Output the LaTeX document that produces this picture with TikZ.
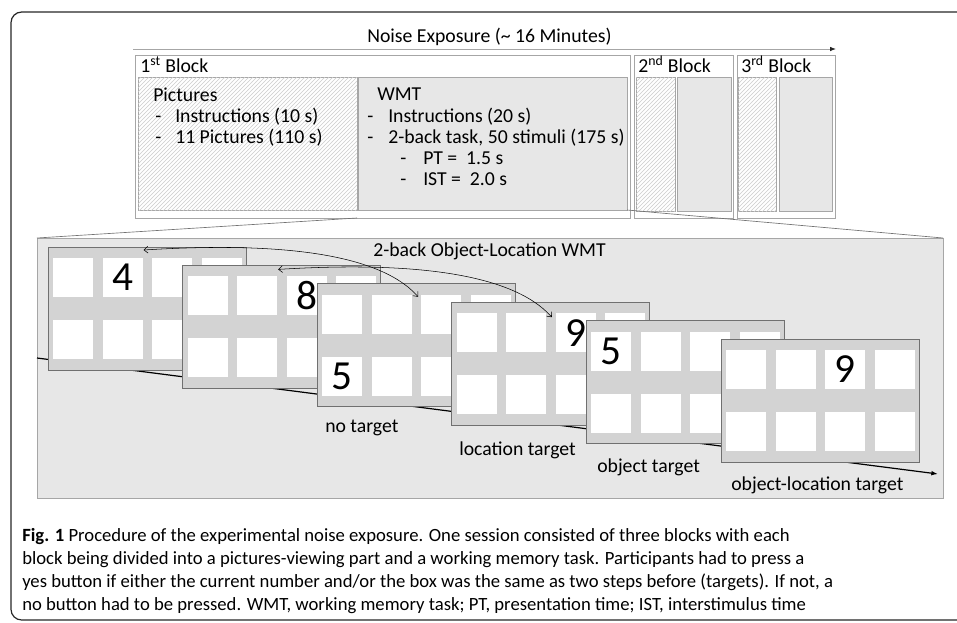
\documentclass[tikz,border=0pt]{standalone}
\usepackage{fontspec}
\setmainfont{Carlito}
\usepackage{xcolor}
\definecolor{cEdge}{HTML}{A6A6A6}
\definecolor{cPanel}{HTML}{E7E7E7}
\definecolor{cCard}{HTML}{D3D3D3}
\definecolor{cCardEdge}{HTML}{707070}
\usetikzlibrary{positioning, arrows.meta, fit, patterns, calc}

\begin{document}
\begin{tikzpicture}[
    x=0.75pt, y=-0.75pt,
    box/.style={draw=cEdge, inner sep=0pt, outer sep=0pt, line width=0.6pt},
    hatchbox/.style={box, fill=white, postaction={pattern=north east lines, pattern color=black!20}},
    wmtbox/.style={box, fill=cPanel},
    card/.style={draw=cCardEdge, fill=cCard, line width=0.6pt, inner sep=0pt, outer sep=0pt,
                 anchor=north west, minimum width=148.5pt, minimum height=92.25pt},
    cell/.style={fill=white, inner sep=0pt, outer sep=0pt, anchor=north west,
                 minimum width=30pt, minimum height=29.25pt},
    digit/.style={font=\fontsize{31}{33}\selectfont, inner sep=0pt},
    txt/.style={font=\fontsize{14.8}{15.8}\selectfont, inner sep=0pt, align=left},
    captext/.style={font=\fontsize{14}{17}\selectfont, inner sep=0pt, anchor=base west},
    swaparrow/.style={{Straight Barb[length=3pt,width=5pt]}-{Straight Barb[length=3pt,width=5pt]}, line width=0.4pt},
    zoomline/.style={draw=black!55, line width=0.5pt}
]
\useasboundingbox (0,0) rectangle (957,622);
\draw[black!85, line width=0.9pt, rounded corners=8pt] (11,12) rectangle (990,620);

% time axis of the session
\node[txt, anchor=base west] (noise) at (367,42) {Noise Exposure (\textasciitilde{} 16 Minutes)};
\coordinate (ne-start) at (133,49);
\coordinate (ne-end) at (836,49);
\draw[cEdge, line width=0.75pt, -{Latex[length=4.5pt,width=3.5pt,color=black!85]}] (ne-start) -- (ne-end);

% three blocks
\node[box, fill=white, fit={(135,55) (630,218)}] (blockA) {};
\node[box, fill=white, fit={(634,55) (733,218)}] (blockB) {};
\node[box, fill=white, fit={(737,55) (835,218)}] (blockC) {};
\node[hatchbox, fit={(138,77) (357,210)}] (pics) {};
\node[wmtbox, fit={(358,77) (627,210)}] (wmt) {};
\node[hatchbox, fit={(636,77) (675,211)}] (picsB) {};
\node[wmtbox, fit={(677,77) (731,211)}] (wmtB) {};
\node[hatchbox, fit={(738,77) (776,211)}] (picsC) {};
\node[wmtbox, fit={(779,77) (832,211)}] (wmtC) {};
\node[txt, anchor=base west] at (140,72) {1\textsuperscript{st} Block};
\node[txt, anchor=base west] at (638,72) {2\textsuperscript{nd} Block};
\node[txt, anchor=base west] at (741,72) {3\textsuperscript{rd} Block};
\node[txt, anchor=north west] (picstext) at (153,88) {Pictures\\
    \hspace*{1.5pt}\makebox[15pt][l]{-}Instructions (10 s)\\
    \hspace*{1.5pt}\makebox[15pt][l]{-}11 Pictures (110 s)};
\node[txt, anchor=north west] (wmttext) at (367,88) {\hspace*{7.5pt}WMT\\
    \makebox[15.75pt][l]{-}Instructions (20 s)\\
    \makebox[15.75pt][l]{-}2-back task, 50 stimuli (175 s)\\
    \hspace*{24.75pt}\makebox[17.25pt][l]{-}PT = \ 1.5 s\\
    \hspace*{24.75pt}\makebox[17.25pt][l]{-}IST = \ 2.0 s};

% zoomed view of the working memory task
\node[box, fill=cPanel, fit={(37,238) (943,498)}] (session) {};
\draw[zoomline] (pics.east |- blockA.south) -- (session.north west);
\draw[zoomline] (wmt.south east) -- (session.north east);
\node[txt, anchor=base west] (wmttitle) at (373,256) {2-back Object-Location WMT};

\coordinate (tl-start) at (37,358);
\coordinate (tl-end) at (938,474);
\draw[black, line width=0.9pt, -{Latex[length=5pt,width=3.5pt]}] (tl-start) -- (tl-end);

\foreach \k/\di/\dj/\dv in {1/2/1/4, 2/3/1/8, 3/1/2/5, 4/3/1/9, 5/1/1/5, 6/3/1/9} {
  \pgfmathsetmacro\cx{48+(\k-1)*134.6}
  \pgfmathsetmacro\cy{247+(\k-1)*18.4}
  \node[card] (card\k) at (\cx,\cy) {};
  \foreach \i in {1,...,4}
    \foreach \j in {1,2}
      \node[cell] (c\k-\i-\j) at (\cx+5+\i*49.5-49.5, \cy+11+\j*62-62) {};
  \node[digit] at (c\k-\di-\dj) {\dv};
}

\node[txt, anchor=base west] at (325,432) {no target};
\node[txt, anchor=base west] at (459,455) {location target};
\node[txt, anchor=base west] at (597,472) {object target};
\node[txt, anchor=base west] at (731,490) {object-location target};

% 2-back comparisons
\coordinate (a1s) at ($(c1-2-1.north east)+(1,-8)$);
\coordinate (a1e) at ($(c3-3-1.north west)+(-3,2)$);
\coordinate (a2s) at ($(c2-2-1.north east)+(1,-7)$);
\coordinate (a2e) at ($(c4-3-1.north west)+(-4,4)$);
\draw[swaparrow] (a1s) .. controls +(130,-8) and +(-40,-45) .. (a1e);
\draw[swaparrow] (a2s) .. controls +(130,-8) and +(-40,-45) .. (a2e);

% caption
\node[captext] (cap1) at (22,541) {\textbf{Fig. 1} Procedure of the experimental noise exposure. One session consisted of three blocks with each};
\node[captext] (cap2) at (22,564) {block being divided into a pictures-viewing part and a working memory task. Participants had to press a};
\node[captext] (cap3) at (22,587) {yes button if either the current number and/or the box was the same as two steps before (targets). If not, a};
\node[captext] (cap4) at (22,610) {no button had to be pressed. WMT, working memory task; PT, presentation time; IST, interstimulus time};
\end{tikzpicture}
\end{document}
